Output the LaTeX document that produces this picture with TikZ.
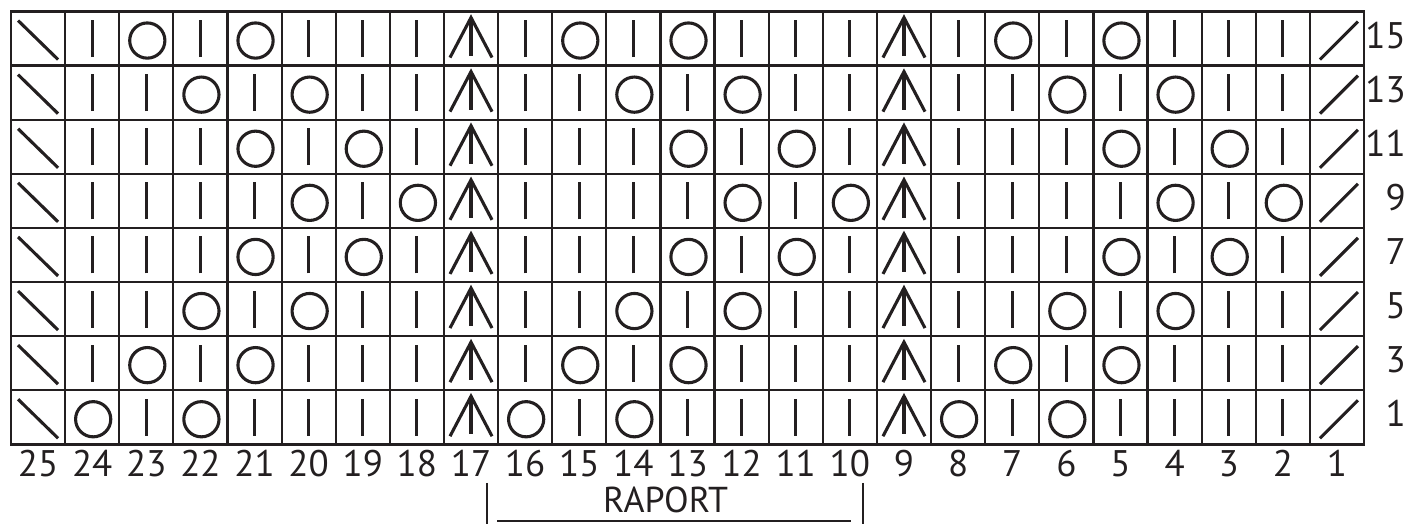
\documentclass[tikz,border=0pt]{standalone}
\usepackage{fontspec}
\newfontfamily\lab{PT Sans}
\definecolor{ink}{HTML}{231F20}
\tikzset{
  gridline/.style={draw=ink,line width=2.2pt},
  sym/.style={draw=ink,line width=3.1pt},
  brk/.style={draw=ink,line width=2.8pt},
  numlab/.style={text=ink,inner sep=0pt,font=\lab\fontsize{37}{42}\selectfont},
  pics/kb/.style={code={\draw[sym] (0,-18.5) -- (0,18.5);}},
  pics/ko/.style={code={\draw[sym] (1,-2) circle (17.6);}},
  pics/kL/.style={code={\draw[sym] (-20,18) -- (20,-21);}},
  pics/kR/.style={code={\draw[sym] (-17,-21) -- (21,17);}},
  pics/ka/.style={code={\draw[sym,line join=miter] (-21,-19) -- (0,21) -- (21,-19);
                        \draw[sym] (0,21) -- (0,-17);}}
}
\begin{document}
\begin{tikzpicture}[x=1pt,y=1pt]
\useasboundingbox (0,0) rectangle (1408,524);
% grid
\foreach \i in {1,...,24} \draw[gridline] ({11+54.12*\i},79.7) -- ({11+54.12*\i},512.5);
\foreach \j in {1,...,7} \draw[gridline] (11,{79.7+54.1*\j}) -- (1364,{79.7+54.1*\j});
\draw[gridline,line width=2.6pt] (11,79.7) rectangle (1364,512.5);
% symbols
\foreach \row [count=\j from 0] in {
 {kL,kb,ko,kb,ko,kb,kb,kb,ka,kb,ko,kb,ko,kb,kb,kb,ka,kb,ko,kb,ko,kb,kb,kb,kR},
 {kL,kb,kb,ko,kb,ko,kb,kb,ka,kb,kb,ko,kb,ko,kb,kb,ka,kb,kb,ko,kb,ko,kb,kb,kR},
 {kL,kb,kb,kb,ko,kb,ko,kb,ka,kb,kb,kb,ko,kb,ko,kb,ka,kb,kb,kb,ko,kb,ko,kb,kR},
 {kL,kb,kb,kb,kb,ko,kb,ko,ka,kb,kb,kb,kb,ko,kb,ko,ka,kb,kb,kb,kb,ko,kb,ko,kR},
 {kL,kb,kb,kb,ko,kb,ko,kb,ka,kb,kb,kb,ko,kb,ko,kb,ka,kb,kb,kb,ko,kb,ko,kb,kR},
 {kL,kb,kb,ko,kb,ko,kb,kb,ka,kb,kb,ko,kb,ko,kb,kb,ka,kb,kb,ko,kb,ko,kb,kb,kR},
 {kL,kb,ko,kb,ko,kb,kb,kb,ka,kb,ko,kb,ko,kb,kb,kb,ka,kb,ko,kb,ko,kb,kb,kb,kR},
 {kL,ko,kb,ko,kb,kb,kb,kb,ka,ko,kb,ko,kb,kb,kb,kb,ka,ko,kb,ko,kb,kb,kb,kb,kR}}{
  \foreach \s [count=\i from 0] in \row {
    \pic at ({38.06+54.12*\i},{485.45-54.1*\j}) {\s};
  }
}
% column numbers
\foreach \n [count=\i from 0] in {25,24,...,1}
  \node[numlab,anchor=base] (c\n) at ({38.06+54.12*\i},47) {\n};
% row numbers
\foreach \n [count=\j from 0] in {15,13,11,9,7,5,3,1}
  \node[numlab,anchor=base east] (r\n) at (1406,{485.45-54.1*\j-9.6}) {\n};
% RAPORT bracket
\node[numlab,anchor=base,font=\lab\fontsize{36}{42}\selectfont] (raport) at (665.5,11) {RAPORT};
\coordinate (bl1) at (487,41); \coordinate (bl2) at (487,0);
\coordinate (br1) at (863,41); \coordinate (br2) at (863,0);
\coordinate (ul1) at (497,3); \coordinate (ul2) at (851,3);
\draw[brk] (bl1) -- (bl2);
\draw[brk] (br1) -- (br2);
\draw[brk,line width=2.2pt] (ul1) -- (ul2);
\end{tikzpicture}
\end{document}
